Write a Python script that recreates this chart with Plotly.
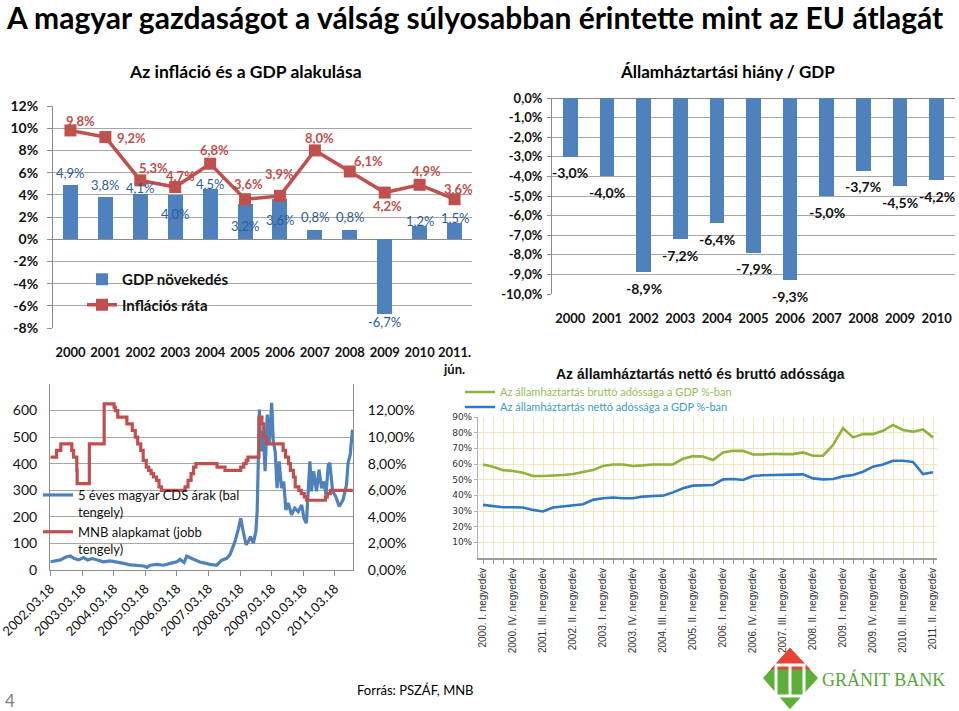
import plotly.graph_objects as go

W, H = 959, 711

# ---------------- data ----------------
# Top-left: inflation & GDP growth
years_tl = ["2000", "2001", "2002", "2003", "2004", "2005", "2006", "2007",
            "2008", "2009", "2010", "2011.<br>jún."]
gdp_growth = [4.9, 3.8, 4.1, 4.0, 4.5, 3.2, 3.6, 0.8, 0.8, -6.7, 1.2, 1.5]
inflation = [9.8, 9.2, 5.3, 4.7, 6.8, 3.6, 3.9, 8.0, 6.1, 4.2, 4.9, 3.6]
tl_yticks = [12, 10, 8, 6, 4, 2, 0, -2, -4, -6, -8]

# Top-right: general government deficit / GDP
years_tr = ["2000", "2001", "2002", "2003", "2004", "2005", "2006", "2007",
            "2008", "2009", "2010"]
deficit = [-3.0, -4.0, -8.9, -7.2, -6.4, -7.9, -9.3, -5.0, -3.7, -4.5, -4.2]
tr_yticks = [0, -1, -2, -3, -4, -5, -6, -7, -8, -9, -10]

# Bottom-left: 5y CDS (left axis) and MNB base rate (right axis)
cds_dates = ["2002-03-18", "2002-05-15", "2002-07-12", "2002-09-05", "2002-11-03",
             "2002-12-13", "2003-02-06", "2003-04-05", "2003-05-22", "2003-07-13",
             "2003-09-06", "2003-11-21", "2004-02-06", "2004-04-23", "2004-07-12",
             "2004-09-27", "2004-12-13", "2005-02-28", "2005-04-05", "2005-05-15",
             "2005-07-31", "2005-10-16", "2006-01-01", "2006-03-18", "2006-04-22",
             "2006-06-10", "2006-07-09", "2006-09-24", "2006-12-08", "2007-04-05",
             "2007-06-21", "2007-08-18", "2007-10-16", "2007-11-21", "2008-01-19",
             "2008-02-28", "2008-03-25", "2008-04-23", "2008-05-26", "2008-06-21",
             "2008-07-16", "2008-08-18", "2008-09-16", "2008-10-01", "2008-10-15",
             "2008-10-27", "2008-11-14", "2008-12-09", "2009-01-01", "2009-01-26",
             "2009-02-17", "2009-03-18", "2009-04-05", "2009-04-27", "2009-05-19",
             "2009-06-13", "2009-07-09", "2009-08-04", "2009-08-29", "2009-09-24",
             "2009-11-03", "2009-12-09", "2010-01-19", "2010-02-28", "2010-03-26",
             "2010-04-23", "2010-06-03", "2010-06-21", "2010-07-16", "2010-08-18",
             "2010-09-16", "2010-10-16", "2010-11-10", "2010-12-06", "2011-01-01",
             "2011-01-19", "2011-02-21", "2011-03-28", "2011-05-08", "2011-06-21",
             "2011-07-31", "2011-08-18", "2011-09-12", "2011-10-08"]
cds_values = [31, 34, 38, 48, 53, 44, 38, 47, 38, 43,
              38, 31, 34, 31, 25, 19, 16, 15, 10, 18,
              21, 18, 25, 31, 40, 28, 52, 40, 30, 21,
              18, 37, 44, 57, 107, 157, 195, 145, 95, 107,
              126, 101, 145, 220, 384, 604, 447, 522, 372, 585,
              472, 629, 484, 447, 308, 409, 308, 333, 226, 252,
              208, 233, 220, 245, 195, 176, 409, 296, 372, 296,
              378, 308, 333, 283, 396, 403, 296, 277, 239, 264,
              321, 403, 434, 528]

rate_dates = ["2002-03-18", "2002-05-27", "2002-07-15", "2002-11-19", "2002-12-10",
              "2003-01-16", "2003-01-20", "2003-06-10", "2003-11-28", "2004-03-22",
              "2004-04-05", "2004-05-04", "2004-08-17", "2004-10-18", "2004-11-22",
              "2004-12-20", "2005-01-24", "2005-02-21", "2005-03-29", "2005-04-26",
              "2005-05-24", "2005-06-21", "2005-07-25", "2005-08-23", "2005-09-20",
              "2006-06-20", "2006-07-25", "2006-08-29", "2006-09-26", "2006-10-24",
              "2007-06-25", "2007-09-25", "2008-03-25", "2008-04-29", "2008-05-27",
              "2008-06-17", "2008-10-22", "2008-11-25", "2008-12-16", "2009-01-20",
              "2009-07-28", "2009-08-25", "2009-09-29", "2009-10-20", "2009-11-24",
              "2009-12-15", "2010-01-26", "2010-02-23", "2010-03-30", "2010-04-27",
              "2010-11-30", "2010-12-21", "2011-01-25", "2011-10-12"]
rate_values = [8.5, 9.0, 9.5, 9.0, 8.5, 7.5, 6.5, 9.5, 12.5, 12.25,
               12.0, 11.5, 11.0, 10.5, 10.0, 9.5, 9.0, 8.25, 7.75, 7.5,
               7.25, 7.0, 6.75, 6.25, 6.0, 6.25, 6.75, 7.25, 7.75, 8.0,
               7.75, 7.5, 7.75, 8.0, 8.25, 8.5, 11.5, 11.0, 10.0, 9.5,
               9.0, 8.5, 8.0, 7.5, 7.0, 6.25, 6.0, 5.75, 5.5, 5.25,
               5.5, 5.75, 6.0, 6.0]
bl_date_ticks = ["2002-03-18", "2003-03-18", "2004-03-18", "2005-03-18", "2006-03-18",
                 "2007-03-18", "2008-03-18", "2009-03-18", "2010-03-18", "2011-03-18"]
bl_date_labels = ["2002.03.18", "2003.03.18", "2004.03.18", "2005.03.18", "2006.03.18",
                  "2007.03.18", "2008.03.18", "2009.03.18", "2010.03.18", "2011.03.18"]
cds_ticks = [0, 100, 200, 300, 400, 500, 600]
rate_ticks = [0, 2, 4, 6, 8, 10, 12]

# Bottom-right: gross and net government debt, % of GDP (quarterly)
roman = ["I.", "II.", "III.", "IV."]
quarters = [f"{y}. {r} negyedév" for y in range(2000, 2012) for r in roman][:46]
gross_debt = [59.7, 58.3, 56.1, 55.5, 54.4, 52.3, 52.3, 52.5, 53.0, 53.6,
              54.7, 56.1, 58.7, 59.7, 59.7, 58.7, 59.1, 59.7, 59.7, 59.7,
              63.3, 65.0, 64.8, 62.5, 67.4, 68.4, 68.4, 66.1, 66.1, 66.5,
              66.3, 66.3, 67.4, 65.3, 65.3, 72.1, 82.8, 77.0, 79.1, 79.1,
              81.2, 84.9, 81.7, 80.6, 82.1, 77.0]
net_debt = [33.9, 33.3, 32.4, 32.4, 32.2, 30.7, 29.7, 32.2, 32.8, 33.7,
            34.3, 37.1, 38.1, 38.6, 38.1, 38.1, 39.2, 39.6, 39.8, 41.9,
            44.5, 46.2, 46.4, 46.6, 50.2, 50.4, 49.8, 52.3, 52.8, 53.0,
            52.8, 53.2, 53.4, 50.8, 50.2, 50.4, 52.1, 53.0, 55.1, 58.3,
            59.7, 62.1, 62.1, 61.3, 53.6, 54.7]
br_yticks = [10, 20, 30, 40, 50, 60, 70, 80, 90]

# ---------------- styles ----------------
BLUE = "#4F81BD"
RED = "#C0504D"
GREEN_L = "#8DB33A"
BLUE_L = "#2F78C8"
FONT = "Lato, 'Open Sans', sans-serif"

# label offsets (pixels) for the top-left data labels
gdp_lbl_dy = [12, 12, 6, -19, 5, -22, -21, 13, 13, -8, 5, 5]
inf_lbl_dy = [9, -1, 12, 11, 14, 15, 22, 12, 10, -13, 14, 10]
inf_lbl_dx = [10, 26, 13, 5, 4, 3, 0, 5, 19, 3, 7, 4]


def px(x):
    return x / W


def py(y):
    return 1 - y / H


def pct1(v):
    return f"{v:.1f}".replace(".", ",") + "%"


fig = go.Figure()

# ---- top-left chart
fig.add_trace(go.Bar(x=years_tl, y=gdp_growth, marker_color=BLUE, width=0.43,
                     marker_line_width=0,
                     name="GDP növekedés", xaxis="x", yaxis="y",
                     legend="legend", legendgroup="g1"))
fig.add_trace(go.Scatter(x=years_tl, y=inflation, mode="lines+markers",
                         line=dict(color=RED, width=3.5),
                         marker=dict(symbol="square", size=12, color=RED),
                         name="Inflációs ráta", xaxis="x", yaxis="y",
                         legend="legend", legendgroup="g2"))

# ---- top-right chart
fig.add_trace(go.Bar(x=years_tr, y=deficit, marker_color=BLUE, width=0.4,
                     marker_line_width=0,
                     showlegend=False, xaxis="x2", yaxis="y2"))

# ---- bottom-left chart
fig.add_trace(go.Scatter(x=cds_dates, y=cds_values, mode="lines",
                         line=dict(color=BLUE, width=3.2),
                         name="5 éves magyar CDS árak (bal<br>tengely)",
                         xaxis="x3", yaxis="y3", legend="legend2"))
fig.add_trace(go.Scatter(x=rate_dates, y=rate_values, mode="lines",
                         line=dict(color=RED, width=3.2, shape="hv"),
                         name="MNB alapkamat (jobb<br>tengely)",
                         xaxis="x3", yaxis="y4", legend="legend2"))

# ---- bottom-right chart
fig.add_trace(go.Scatter(x=quarters, y=gross_debt, mode="lines",
                         line=dict(color=GREEN_L, width=2.6),
                         name="<span style='color:#9BBB59'>Az államháztartás bruttó adóssága a GDP %-ban</span>",
                         xaxis="x4", yaxis="y5", legend="legend3"))
fig.add_trace(go.Scatter(x=quarters, y=net_debt, mode="lines",
                         line=dict(color=BLUE_L, width=2.6),
                         name="<span style='color:#3C9CC0'>Az államháztartás nettó adóssága a GDP %-ban</span>",
                         xaxis="x4", yaxis="y5", legend="legend4"))

ann = []
# data labels, top-left (x given as category index)
for i, cat in enumerate(years_tl):
    ann.append(dict(x=i, y=gdp_growth[i], xref="x", yref="y", text=pct1(gdp_growth[i]),
                    showarrow=False, yshift=gdp_lbl_dy[i],
                    font=dict(family=FONT, size=13, color="#2E5E94")))
    ann.append(dict(x=i, y=inflation[i], xref="x", yref="y", text=pct1(inflation[i]),
                    showarrow=False, yshift=inf_lbl_dy[i], xshift=inf_lbl_dx[i],
                    font=dict(family=FONT, size=13, color=RED, weight="bold")))
# data labels, top-right
for i, cat in enumerate(years_tr):
    ann.append(dict(x=i, y=deficit[i], xref="x2", yref="y2", text=pct1(deficit[i]),
                    showarrow=False, yshift=-16,
                    font=dict(family=FONT, size=14, color="#111", weight="bold")))

# titles and texts
ann += [
    dict(x=px(4), y=py(17), xref="paper", yref="paper", xanchor="left", yanchor="middle",
         text="A magyar gazdaságot a válság súlyosabban érintette mint az EU átlagát",
         showarrow=False, font=dict(family=FONT, size=30, color="#000", weight="bold")),
    dict(x=px(245), y=py(72), xref="paper", yref="paper", xanchor="center", yanchor="middle",
         text="Az infláció és a GDP alakulása", showarrow=False,
         font=dict(family=FONT, size=17.5, color="#000", weight="bold")),
    dict(x=px(727), y=py(72), xref="paper", yref="paper", xanchor="center", yanchor="middle",
         text="Államháztartási hiány / GDP", showarrow=False,
         font=dict(family=FONT, size=17, color="#000", weight="bold")),
    dict(x=px(700), y=py(374), xref="paper", yref="paper", xanchor="center", yanchor="middle",
         text="Az államháztartás nettó és bruttó adóssága", showarrow=False,
         font=dict(family="'Liberation Sans', Arial, sans-serif",
                   size=14, color="#111", weight="bold")),
    dict(x=px(355), y=py(690), xref="paper", yref="paper", xanchor="left", yanchor="middle",
         text="Forrás: PSZÁF, MNB", showarrow=False,
         font=dict(family=FONT, size=13, color="#000")),
    dict(x=px(3), y=py(700), xref="paper", yref="paper", xanchor="left", yanchor="middle",
         text="4", showarrow=False, font=dict(family=FONT, size=17, color="#808080")),
    dict(x=px(820), y=py(679), xref="paper", yref="paper", xanchor="left", yanchor="middle",
         text="GRÁNIT BANK", showarrow=False,
         font=dict(family="'Liberation Serif', 'DejaVu Serif', serif", size=18,
                   color="#55A53A")),
]


def path(points):
    return "M " + " L ".join(f"{px(a):.5f} {py(b):.5f}" for a, b in points) + " Z"


shapes = [
    dict(type="path", xref="paper", yref="paper", layer="above",
         path=path([(765, 678), (790, 650), (816, 678), (790, 707)]),
         fillcolor="#5DAE3A", line=dict(color="#5DAE3A", width=3)),
    dict(type="path", xref="paper", yref="paper", layer="above",
         path=path([(774, 668), (790, 650), (807, 668)]),
         fillcolor="#E8413A", line=dict(color="#E8413A", width=3)),
    dict(type="rect", xref="paper", yref="paper", layer="above",
         x0=px(776), x1=px(804), y0=py(696), y1=py(665),
         fillcolor="rgba(0,0,0,0)", line=dict(color="white", width=3)),
    dict(type="line", xref="paper", yref="paper", layer="above",
         x0=px(790), x1=px(790), y0=py(696), y1=py(665),
         line=dict(color="white", width=3)),
]

grid_gray = "#A6A6A6"
axis_font_b = dict(family=FONT, size=14, color="#111", weight="bold")

fig.update_layout(
    template="none",
    width=W, height=H, margin=dict(l=0, r=0, t=0, b=0, autoexpand=False),
    paper_bgcolor="white", plot_bgcolor="white",
    annotations=ann, shapes=shapes, bargap=0, hovermode=False,
    # top-left
    xaxis=dict(domain=[px(53), px(472)], anchor="y", type="category", automargin=False,
               categoryarray=years_tl, range=[-0.5, 11.5], tickangle=0,
               showgrid=False, showline=False, ticks="", ticklabelstandoff=15,
               tickfont=dict(family=FONT, size=13, color="#111", weight="bold")),
    yaxis=dict(domain=[py(328), py(106)], anchor="x", range=[-8, 12], automargin=False,
               tickvals=tl_yticks, ticktext=[f"{v}%" for v in tl_yticks],
               showgrid=True, gridcolor=grid_gray, zeroline=True, zerolinecolor="#8C8C8C",
               showline=True, linecolor="#8C8C8C", ticks="outside", ticklen=5,
               tickcolor="#8C8C8C", ticklabelstandoff=6, tickfont=axis_font_b),
    # top-right
    xaxis2=dict(domain=[px(552), px(955)], anchor="y2", type="category", automargin=False,
                categoryarray=years_tr, range=[-0.5, 10.5], side="bottom", tickangle=0,
                showgrid=False, showline=False, ticks="", ticklabelstandoff=15,
                tickfont=dict(family=FONT, size=13, color="#111", weight="bold")),
    yaxis2=dict(domain=[py(294), py(98)], anchor="x2", range=[-10, 0], automargin=False,
                tickvals=tr_yticks, ticktext=[pct1(v) for v in tr_yticks],
                showgrid=True, gridcolor=grid_gray, zeroline=True, zerolinecolor="#8C8C8C",
                showline=True, linecolor="#8C8C8C", ticks="outside", ticklen=4,
                tickcolor="#8C8C8C", ticklabelstandoff=2,
                tickfont=dict(family=FONT, size=13, color="#111", weight="bold")),
    # bottom-left
    xaxis3=dict(domain=[px(50), px(353)], anchor="y3", type="date", automargin=False,
                range=["2002-03-12", "2011-10-14"], tickvals=bl_date_ticks,
                ticktext=bl_date_labels, tickangle=-45, showgrid=False,
                ticklabeloverflow="allow",
                showline=True, linecolor="#8C8C8C", ticks="outside", ticklen=5,
                tickcolor="#8C8C8C", tickfont=dict(family=FONT, size=13, color="#111")),
    yaxis3=dict(domain=[py(570), py(384)], anchor="x3", range=[0, 700], automargin=False,
                tickvals=cds_ticks, showgrid=True, gridcolor=grid_gray,
                zeroline=False, showline=True, linecolor="#8C8C8C", ticks="",
                ticklabelstandoff=9, tickfont=dict(family=FONT, size=14, color="#111")),
    yaxis4=dict(overlaying="y3", anchor="x3", side="right", range=[0, 14], automargin=False,
                tickvals=rate_ticks, ticktext=[f"{v},00%" for v in rate_ticks],
                showgrid=False, zeroline=False, showline=True, linecolor="#8C8C8C", ticks="",
                ticklabelstandoff=11, tickfont=dict(family=FONT, size=14, color="#111")),
    # bottom-right
    xaxis4=dict(domain=[px(478), px(937)], anchor="y5", type="category", automargin=False,
                categoryarray=quarters, range=[-0.5, 45.4],
                tickvals=quarters,
                ticktext=[q if i % 3 == 0 else "" for i, q in enumerate(quarters)],
                tickangle=-90, showgrid=True, gridcolor="#F1E7BF",
                ticklabeloverflow="allow",
                showline=True, linecolor="#9A9A9A", linewidth=2,
                ticks="outside", ticklen=4, tickcolor="#9A9A9A",
                tickfont=dict(family="'Liberation Sans', Arial, sans-serif", size=10,
                              color="#333")),
    yaxis5=dict(domain=[py(558), py(417)], anchor="x4", range=[0, 90], automargin=False,
                tickvals=br_yticks, ticktext=[f"{v}%" for v in br_yticks],
                showgrid=True, gridcolor="#F1E7BF", zeroline=False,
                showline=True, linecolor="#B0B0B0", ticks="outside", ticklen=3,
                tickcolor="#B0B0B0",
                tickfont=dict(family="'DejaVu Sans', sans-serif", size=9, color="#333")),
    legend=dict(x=px(82), y=py(263), xanchor="left", yanchor="top",
                bgcolor="rgba(0,0,0,0)", tracegroupgap=3,
                font=dict(family=FONT, size=15, color="#111", weight="bold")),
    legend2=dict(x=px(38), y=py(480), xanchor="left", yanchor="top", valign="top",
                 bgcolor="rgba(0,0,0,0)", tracegroupgap=0,
                 font=dict(family=FONT, size=13, color="#111")),
    legend3=dict(x=px(460), y=py(392), xanchor="left", yanchor="middle",
                 bgcolor="rgba(0,0,0,0)",
                 font=dict(family=FONT, size=11, color="#555")),
    legend4=dict(x=px(460), y=py(407), xanchor="left", yanchor="middle",
                 bgcolor="rgba(0,0,0,0)",
                 font=dict(family=FONT, size=11, color="#555")),
)

fig.write_html("out.html", config={"displayModeBar": False, "staticPlot": True},
               post_script="document.body.style.margin='0px';"
                           "document.body.style.padding='0px';")
